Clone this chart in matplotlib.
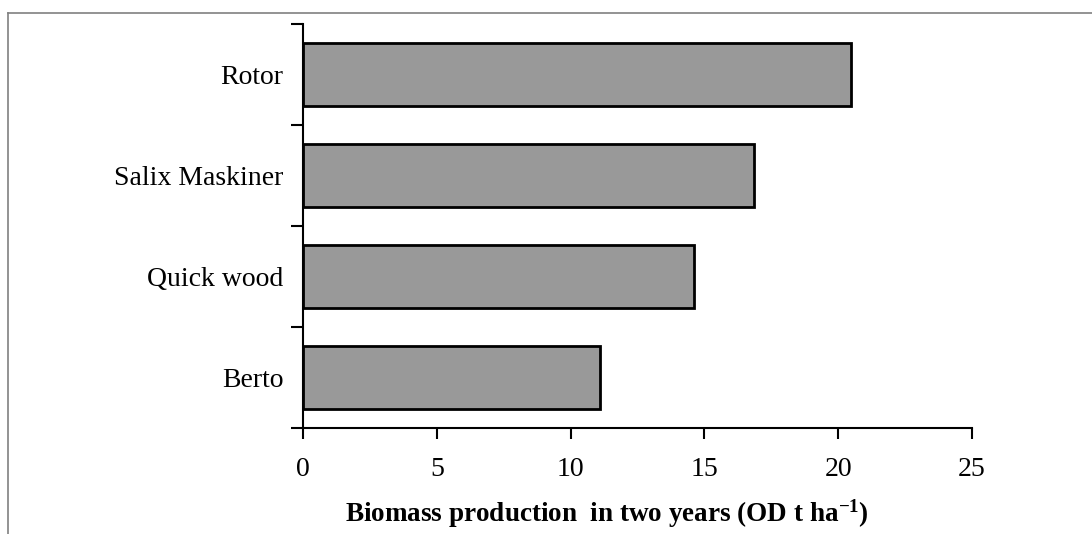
import matplotlib
matplotlib.use("Agg")
import matplotlib.pyplot as plt
from matplotlib.lines import Line2D

plt.rcParams['font.family'] = ['Liberation Serif', 'DejaVu Serif']
plt.rcParams['mathtext.fontset'] = 'custom'
plt.rcParams['mathtext.rm'] = 'Liberation Serif'
plt.rcParams['mathtext.bf'] = 'Liberation Serif:bold'

# data, bottom to top
clones = ['Berto', 'Quick wood', 'Salix Maskiner', 'Rotor']
biomass = [11.1, 14.6, 16.85, 20.5]
xticks = [0, 5, 10, 15, 20, 25]

fig = plt.figure(figsize=(10.92, 5.34), dpi=100)
ax = fig.add_axes([0.2775, 0.1985, 0.6125, 0.7565])

ax.barh(range(len(clones)), biomass, height=0.63, color='#999999',
        edgecolor='black', linewidth=2)

ax.set_xlim(0, 25)
ax.set_ylim(-0.5, len(clones) - 0.5)
ax.set_xticks(xticks)
ax.set_xticklabels([str(t) for t in xticks])

# category labels centred, ticks on the boundaries
ax.set_yticks([i - 0.5 for i in range(len(clones) + 1)])
ax.set_yticklabels([])
ax.set_yticks(range(len(clones)), minor=True)
ax.set_yticklabels(clones, minor=True)
ax.tick_params(axis='y', which='minor', length=0, pad=14, labelsize=20)
ax.tick_params(axis='y', which='major', direction='out', length=9, width=1.5)
ax.tick_params(axis='x', direction='out', length=8, width=1.5, pad=13, labelsize=20)

for s in ['top', 'right']:
    ax.spines[s].set_visible(False)
for s in ['left', 'bottom']:
    ax.spines[s].set_linewidth(1.5)

ax.set_xlabel(r'Biomass production  in two years (OD t ha$\mathbf{^{-1}}$)',
              fontsize=19.5, fontweight='bold')
ax.xaxis.set_label_coords(0.455, -0.172)

# frame lines of the original figure
fig.add_artist(Line2D([8 / 1092, 1], [1 - 13 / 534, 1 - 13 / 534],
                      color='#808080', linewidth=1.2, transform=fig.transFigure))
fig.add_artist(Line2D([8 / 1092, 8 / 1092], [0, 1 - 13 / 534],
                      color='#808080', linewidth=1.2, transform=fig.transFigure))

fig.savefig('out.png', dpi=100)
